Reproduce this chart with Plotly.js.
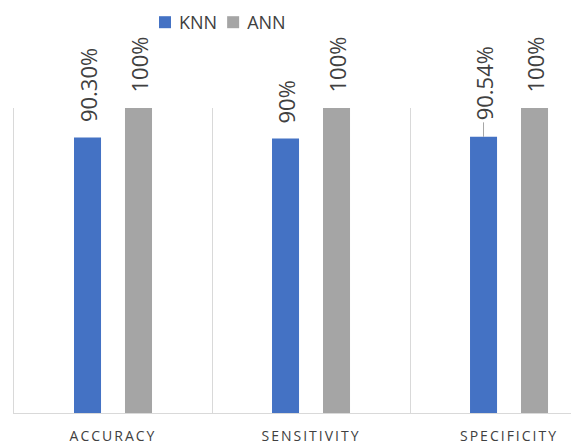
<!DOCTYPE html>
<html>
<head>
<meta charset="utf-8">
<script src="https://cdn.plot.ly/plotly-3.0.1.min.js"></script>
<style>
  html, body { margin: 0; padding: 0; background: #ffffff; }
  #chart { width: 571px; height: 445px; }
</style>
</head>
<body>
<div id="chart"></div>
<script>
// Metrics compared for the two classifiers (percent)
const categories = ['ACCURACY', 'SENSITIVITY', 'SPECIFICITY'];
const knnValues = [90.30, 90, 90.54];
const annValues = [100, 100, 100];
const knnLabels = ['90.30%', '90%', '90.54%'];
const annLabels = ['100%', '100%', '100%'];

const KNN_COLOR = '#4472C4';
const ANN_COLOR = '#A5A5A5';
const LABEL_COLOR = '#404040';
const GRID_COLOR = '#D9D9D9';
const FONT = '"Open Sans", "Liberation Sans", sans-serif';

const traces = [
  { type: 'bar', name: 'KNN', x: categories, y: knnValues,
    marker: { color: KNN_COLOR }, hoverinfo: 'none' },
  { type: 'bar', name: 'ANN', x: categories, y: annValues,
    marker: { color: ANN_COLOR }, hoverinfo: 'none' }
];

// Rotated value labels above each bar; the SPECIFICITY KNN label sits higher with a leader line
const annotations = [];
const OFFSET = 25.5;
function addLabels(values, labels, shift) {
  values.forEach((v, i) => {
    const raised = (shift < 0 && categories[i] === 'SPECIFICITY');
    const a = {
      x: categories[i], y: v, xref: 'x', yref: 'y',
      text: labels[i], textangle: -90,
      font: { family: FONT, size: 22, color: LABEL_COLOR },
      xshift: shift
    };
    if (raised) {
      Object.assign(a, { showarrow: true, arrowhead: 0, arrowwidth: 1,
        arrowcolor: '#A6A6A6', ax: 0, ay: -53, standoff: 0 });
    } else {
      Object.assign(a, { showarrow: false, yanchor: 'bottom', xanchor: 'center', yshift: 13 });
    }
    annotations.push(a);
  });
}
addLabels(knnValues, knnLabels, -OFFSET);
addLabels(annValues, annLabels, OFFSET);

const layout = {
  width: 571, height: 445,
  margin: { l: 14, r: 0, t: 108, b: 32 },
  paper_bgcolor: '#ffffff', plot_bgcolor: '#ffffff',
  barmode: 'group', bargap: 0.485, bargroupgap: 0.47,
  font: { family: FONT, color: LABEL_COLOR },
  showlegend: true,
  legend: {
    orientation: 'h', xref: 'container', yref: 'container',
    x: 145 / 571, xanchor: 'left', y: 1 - 4 / 445, yanchor: 'top',
    font: { family: FONT, size: 18, color: LABEL_COLOR },
    bgcolor: 'rgba(0,0,0,0)'
  },
  xaxis: {
    type: 'category', range: [-0.5, 2.313], fixedrange: true,
    tickson: 'boundaries', ticks: '', showgrid: true, gridcolor: GRID_COLOR, gridwidth: 1,
    showline: true, linecolor: GRID_COLOR, linewidth: 1,
    tickfont: { family: FONT, size: 14, color: LABEL_COLOR }, ticklabelstandoff: 10
  },
  yaxis: {
    range: [0, 100], fixedrange: true, showticklabels: false, showgrid: false,
    zeroline: false, ticks: '', showline: true, linecolor: GRID_COLOR, linewidth: 1
  },
  annotations: annotations
};

const gd = document.getElementById('chart');
Plotly.newPlot(gd, traces, layout, { staticPlot: true }).then(() => {
  // spaced-out capitals on the category labels
  gd.querySelectorAll('.xtick text').forEach(t => t.setAttribute('letter-spacing', '2px'));
  // compact legend: smaller swatch-to-name gap, items closer together
  const items = gd.querySelectorAll('.legend .traces');
  items.forEach(g => {
    const txt = g.querySelector('.legendtext');
    if (txt) txt.setAttribute('x', 34);
  });
  items.forEach((g, i) => {
    if (i === 0) return;
    const m = /translate\(\s*([-\d.]+)[ ,]+([-\d.]+)\s*\)/.exec(g.getAttribute('transform') || '');
    if (m) g.setAttribute('transform', `translate(${parseFloat(m[1]) - 15 * i},${m[2]})`);
  });
});
</script>
</body>
</html>
